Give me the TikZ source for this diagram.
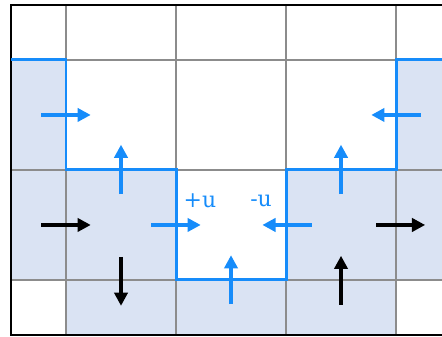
\documentclass[tikz,border=0pt]{standalone}
\usepackage{tikz}
\usepackage{fontspec}
\newfontfamily\labelfont{DejaVu Serif}
\usetikzlibrary{arrows.meta}
\definecolor{fluxblue}{RGB}{22,140,250}
\definecolor{cellfill}{RGB}{218,227,243}
\definecolor{gridgray}{RGB}{140,140,140}
\tikzstyle{cell} = [fill=cellfill, draw=none]
\tikzstyle{gridline} = [draw=gridgray, line width=0.7pt]
\tikzstyle{boundary} = [draw=fluxblue, line width=1.7pt, line join=miter]
\tikzstyle{fluxarrow} = [draw=fluxblue, line width=2.3pt, -{Triangle[length=7.5pt,width=7.5pt]}]
\tikzstyle{speedarrow} = [draw=black, line width=2.3pt, -{Triangle[length=7.5pt,width=7.5pt]}]
\tikzstyle{fluxlabel} = [text=fluxblue, font=\labelfont\fontsize{12.5}{14}\selectfont, inner sep=0pt]

\begin{document}
\begin{tikzpicture}[x=2.2cm, y=2.2cm]
  \useasboundingbox (-0.6,-0.518) rectangle (3.418,2.545);
  \clip (-0.6,-0.518) rectangle (3.418,2.545);

  % shaded cells
  \fill[cell] (-0.5,1) rectangle (0,2);
  \fill[cell] (3,1) rectangle (3.5,2);
  \fill[cell] (-0.5,0) rectangle (1,1);
  \fill[cell] (2,0) rectangle (3.5,1);
  \fill[cell] (0,-0.5) rectangle (3,0);

  % grid
  \foreach \x in {0,1,2,3}
    \draw[gridline] (\x,-0.5) -- (\x,2.5);
  \foreach \y in {0,1,2}
    \draw[gridline] (-0.5,\y) -- (3.5,\y);
  \draw[black, line width=1.2pt] (-0.5,-0.5) rectangle (3.5,2.5);

  % interface
  \draw[boundary] (-0.5,2) -- (0,2) -- (0,1) -- (1,1) -- (1,0) -- (2,0) -- (2,1) -- (3,1) -- (3,2) -- (3.5,2);

  % coordinates of the arrows
  \coordinate (fa1s) at (-0.225,1.5);  \coordinate (fa1e) at (0.225,1.5);
  \coordinate (fa2s) at (0.5,0.78);    \coordinate (fa2e) at (0.5,1.23);
  \coordinate (fa3s) at (0.775,0.5);   \coordinate (fa3e) at (1.225,0.5);
  \coordinate (fa4s) at (1.5,-0.22);   \coordinate (fa4e) at (1.5,0.225);
  \coordinate (fa5s) at (2.235,0.5);   \coordinate (fa5e) at (1.785,0.5);
  \coordinate (fa6s) at (2.5,0.78);    \coordinate (fa6e) at (2.5,1.23);
  \coordinate (fa7s) at (3.225,1.5);   \coordinate (fa7e) at (2.775,1.5);

  \coordinate (sa1s) at (-0.225,0.5);  \coordinate (sa1e) at (0.225,0.5);
  \coordinate (sa2s) at (0.5,0.21);    \coordinate (sa2e) at (0.5,-0.235);
  \coordinate (sa3s) at (2.5,-0.225);  \coordinate (sa3e) at (2.5,0.22);
  \coordinate (sa4s) at (2.82,0.5);    \coordinate (sa4e) at (3.265,0.5);

  \foreach \i in {1,...,7}
    \draw[fluxarrow] (fa\i s) -- (fa\i e);
  \foreach \i in {1,...,4}
    \draw[speedarrow] (sa\i s) -- (sa\i e);

  \node[fluxlabel] (plusu) at (1.218,0.72) {+u};
  \node[fluxlabel] (minusu) at (1.773,0.72) {-u};
\end{tikzpicture}
\end{document}
